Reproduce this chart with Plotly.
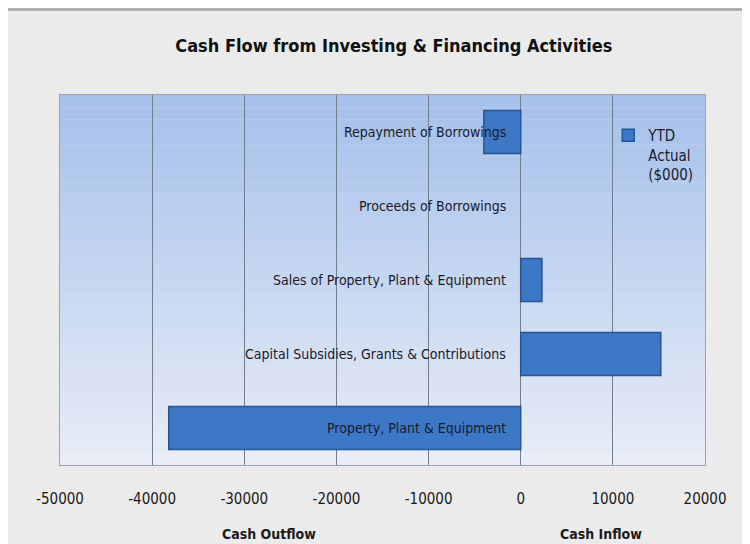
import plotly.graph_objs as go

# categories listed bottom to top, values in $000
categories = [
    "Property, Plant & Equipment",
    "Capital Subsidies, Grants & Contributions",
    "Sales of Property, Plant & Equipment",
    "Proceeds of Borrowings",
    "Repayment of Borrowings",
]
ytd_actual = [-38200, 15200, 2300, 0, -4000]
x_ticks = [-50000, -40000, -30000, -20000, -10000, 0, 10000, 20000]

FONT = "DejaVu Sans Condensed, Roboto, sans-serif"

# no outline on an empty bar, so it doesn't leave a sliver at zero
edge = ["rgba(0,0,0,0)" if v == 0 else "#24558f" for v in ytd_actual]

fig = go.Figure()
fig.add_trace(go.Bar(
    x=ytd_actual,
    y=categories,
    orientation="h",
    name="YTD<br>Actual<br>($000)",
    marker=dict(color="#3d78c6", line=dict(color=edge, width=1.5)),
    width=0.58,
))

# category labels sit inside the plot, right-aligned on the zero line
annotations = []
for cat in categories:
    annotations.append(dict(
        x=0, y=cat, xref="x", yref="y",
        text=cat, showarrow=False, xanchor="right", xshift=-13,
        font=dict(family=FONT, size=14, color="#1a1a2a"),
    ))

# axis captions under the tick labels
annotations.append(dict(x=-27300, y=-0.16, xref="x", yref="paper", text="<b>Cash Outflow</b>",
                        showarrow=False, yanchor="top",
                        font=dict(family=FONT, size=14, color="#1a1a1a")))
annotations.append(dict(x=8700, y=-0.16, xref="x", yref="paper", text="<b>Cash Inflow</b>",
                        showarrow=False, yanchor="top",
                        font=dict(family=FONT, size=14, color="#1a1a1a")))

# vertical gradient for the plot background
shapes = []
n_bands = 30
top = (166, 193, 236)
bottom = (232, 237, 247)
for i in range(n_bands):
    t = i / (n_bands - 1)
    c = tuple(int(top[k] + (bottom[k] - top[k]) * t) for k in range(3))
    shapes.append(dict(
        type="rect", xref="x domain", yref="y domain",
        x0=0, x1=1, y0=1 - (i + 1) / n_bands, y1=1 - i / n_bands,
        fillcolor="rgb(%d,%d,%d)" % c, line=dict(width=0), layer="below",
    ))
# chart frame (top edge visible)
shapes.append(dict(type="line", xref="paper", yref="paper",
                   x0=-0.2, x1=1.3, y0=1.231, y1=1.231,
                   line=dict(color="#a5a5a5", width=2.5), layer="below"))

fig.update_layout(
    # page body adds an 8px margin, so the figure is 8px smaller each way
    width=742, height=536,
    margin=dict(l=52, r=45, t=87, b=79),
    paper_bgcolor="#ebebeb",
    plot_bgcolor="#dfe7f4",
    title=dict(text="<b>Cash Flow from Investing & Financing Activities</b>",
               x=0.52, xanchor="center", y=0.93, yanchor="middle",
               font=dict(family=FONT, size=18, color="#111111")),
    showlegend=True,
    legend=dict(x=0.85, y=0.935, xanchor="left", yanchor="top",
                bgcolor="rgba(0,0,0,0)", valign="top", itemwidth=30,
                font=dict(family=FONT, size=15, color="#1a1a2a")),
    bargap=0.42,
    annotations=annotations,
    shapes=shapes,
)
fig.update_xaxes(
    range=[-50000, 20000],
    tickvals=x_ticks,
    ticktext=[str(v) for v in x_ticks],
    showgrid=True, gridcolor="#6f7d8c", gridwidth=1,
    zeroline=False,
    showline=True, linecolor="#9aa3ad", mirror=True,
    ticklabelstandoff=20,
    tickfont=dict(family=FONT, size=15, color="#1a1a1a"),
)
fig.update_yaxes(
    categoryorder="array", categoryarray=categories,
    showticklabels=False, showgrid=False, zeroline=False,
    showline=True, linecolor="#9aa3ad", mirror=True,
)

fig.write_html("out.html")
